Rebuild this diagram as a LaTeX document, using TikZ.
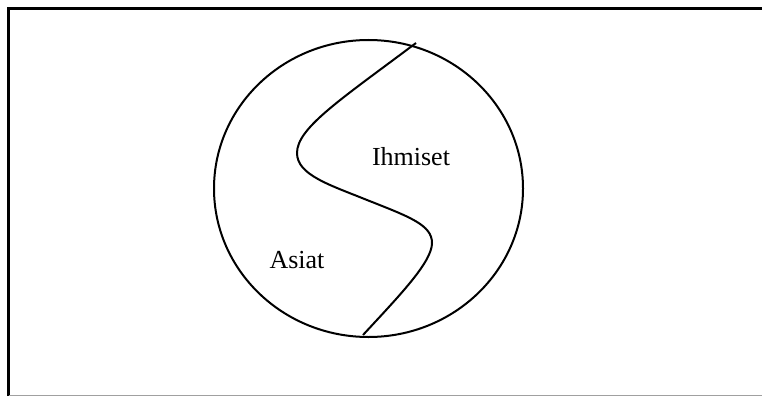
\documentclass[tikz,border=0pt]{standalone}
\usepackage{fontspec}
\setmainfont{Liberation Serif}
\usepackage{tikz}
\usetikzlibrary{positioning}
\definecolor{framegray}{HTML}{A0A0A0}

\begin{document}
\begin{tikzpicture}[x=1pt, y=-1pt,
  frame/.style={line width=3pt, draw=black},
  outline/.style={line width=2pt, draw=black},
  setlabel/.style={font=\fontsize{26}{30}\selectfont, inner sep=0pt}
]
\useasboundingbox (0,0) rectangle (762,396);
% frame
\draw[frame] (8.5,396) -- (8.5,8.5) -- (762,8.5);
\draw[line width=1pt, draw=framegray] (8.5,395.5) -- (762,395.5);
% set
\draw[outline] (368.5,188.5) ellipse [x radius=154.5pt, y radius=148.5pt];
% border between the two parts
\coordinate (top) at (416,43);
\coordinate (left) at (297,153);
\coordinate (mid) at (367,200);
\coordinate (right) at (432,243);
\coordinate (bottom) at (363,335);
\draw[outline, line join=round] (top) .. controls (340,100) and (297,128) .. (left)
  .. controls (297,175) and (330,185) .. (mid)
  .. controls (410,217) and (432,225) .. (right)
  .. controls (432,262) and (400,295) .. (bottom);
\node[setlabel] (ihmiset) at (411,157) {Ihmiset};
\node[setlabel] (asiat) at (297,260) {Asiat};
\end{tikzpicture}
\end{document}
